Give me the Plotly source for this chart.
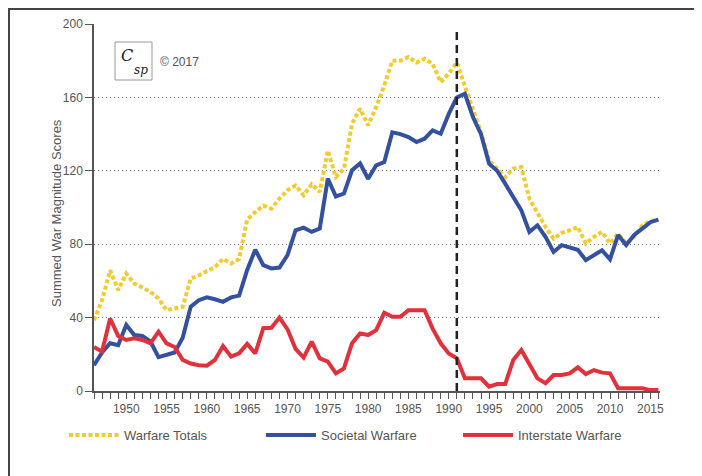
import plotly.graph_objects as go

years = list(range(1946, 2017))

warfare_totals = [
    38.6, 49.5, 65.8, 55, 64, 58.6, 56.4, 54, 50.4, 44,
    45, 45.9, 61.3, 63, 65.4, 67.5, 72, 69.5, 72, 93.5,
    97.5, 101, 99.4, 104.9, 109.4, 112, 106.7, 112.7, 108.5, 131,
    116.6, 121, 145.7, 153.9, 144.8, 154.7, 166.5, 180, 180, 182,
    179, 181, 178.3, 168.3, 172.9, 179, 166, 152.9, 141, 125.7,
    121.2, 116.6, 121.2, 122, 104.8, 96.7, 89.4, 83, 86.2, 87.6,
    89.4, 80.4, 84, 86.7, 80.4, 85.8, 80.4, 84, 90.3, 92.6,
    93.4,
]

societal_warfare = [
    14, 21, 26, 25, 36, 30.5, 30, 27, 18.5, 19.5,
    21, 29, 46, 49.5, 51, 50, 48.6, 51, 52, 66,
    77, 68.6, 66.8, 67.3, 74, 87.6, 89, 86.7, 88.5, 115.7,
    106, 107.6, 120.3, 124, 115.7, 123, 124.8, 141, 140, 138.4,
    135.7, 137.5, 142, 140.2, 151, 160, 162, 149.3, 140, 123.9,
    120, 113, 105.7, 98.5, 86.7, 90.3, 84, 75.8, 79.5, 78.5,
    77, 71.3, 74, 76.7, 71.8, 85, 79.5, 85, 88.5, 92,
    93.4,
]

interstate_warfare = [
    24, 21.4, 39.5, 30, 27.8, 28.7, 27.8, 26, 32.3, 26,
    24, 17, 15, 14, 13.8, 16.9, 24.5, 18.7, 20.5, 25.7,
    20.5, 34.2, 34.5, 40, 33.6, 23, 18.2, 26.9, 17.8, 16,
    9.6, 12.3, 26, 31.4, 30.5, 33.2, 42.6, 40.4, 40.4, 44,
    44, 44, 34, 26, 20.5, 17.8, 6.9, 6.9, 6.9, 2.4,
    3.8, 3.8, 16.9, 22.3, 14.1, 6.9, 4.2, 8.7, 8.7, 9.6,
    12.9, 9.2, 11.4, 10, 9.6, 1.5, 1.5, 1.5, 1.5, 0.5,
    0.5,
]

series_names = ["Warfare Totals", "Societal Warfare", "Interstate Warfare"]
y_ticks = [0, 40, 80, 120, 160, 200]
x_tick_labels = list(range(1950, 2016, 5))
cold_war_end = 1991
copyright_text = "© 2017"
y_title = "Summed War Magnitude Scores"

FONT = "Arial, 'Liberation Sans', sans-serif"
GREY = "#555555"

fig = go.Figure()
fig.add_trace(go.Scatter(x=years, y=warfare_totals, mode="lines", name=series_names[0],
                         line=dict(color="#F2CB30", width=4, dash="4px,2.5px")))
fig.add_trace(go.Scatter(x=years, y=societal_warfare, mode="lines", name=series_names[1],
                         line=dict(color="#3451A0", width=4)))
fig.add_trace(go.Scatter(x=years, y=interstate_warfare, mode="lines", name=series_names[2],
                         line=dict(color="#E2313B", width=4)))

# page is offset by the 8px body margin; figure pixel coords below
OFF = 8
W, H = 694, 468
L, T = 94 - OFF, 24 - OFF
pw, ph = 566, 367
R = W - L - pw
B = H - T - ph

def px(x):  # page pixel -> paper x
    return (x - OFF - L) / pw

def py(y):  # page pixel -> paper y
    return (T + ph - (y - OFF)) / ph

shapes = [
    dict(type="line", xref="x", yref="y", x0=cold_war_end, x1=cold_war_end, y0=0, y1=198,
         line=dict(color="#222222", width=2.5, dash="8px,5px")),
    dict(type="rect", xref="paper", yref="paper", x0=px(9), x1=px(760), y0=py(520), y1=py(9),
         line=dict(color="#444444", width=2), layer="below"),
    dict(type="rect", xref="paper", yref="paper", x0=px(115), x1=px(152), y0=py(80), y1=py(42),
         line=dict(color="#999999", width=1), fillcolor="rgba(0,0,0,0)"),
]

annotations = [
    dict(xref="paper", yref="paper", x=px(127), y=py(55), text="<i>C</i>", showarrow=False,
         font=dict(family="'DejaVu Serif', serif", size=16, color="#222"), xanchor="center", yanchor="middle"),
    dict(xref="paper", yref="paper", x=px(141), y=py(70), text="<i>sp</i>", showarrow=False,
         font=dict(family="'DejaVu Serif', serif", size=12, color="#222"), xanchor="center", yanchor="middle"),
    dict(xref="paper", yref="paper", x=px(158), y=py(62), text=copyright_text, showarrow=False,
         font=dict(family=FONT, size=12, color=GREY), xanchor="left", yanchor="middle"),
    dict(xref="paper", yref="paper", x=px(57), y=py(213), text=y_title, textangle=-90, showarrow=False,
         font=dict(family=FONT, size=13, color=GREY), xanchor="center", yanchor="middle"),
]

fig.update_layout(
    width=W, height=H,
    margin=dict(l=L, r=R, t=T, b=B, autoexpand=False),
    paper_bgcolor="white", plot_bgcolor="white",
    font=dict(family=FONT, color=GREY, size=11),
    shapes=shapes, annotations=annotations,
    showlegend=True,
    legend=dict(orientation="h", x=px(64), y=py(435), xanchor="left", yanchor="middle",
                entrywidth=132, entrywidthmode="pixels", itemwidth=50,
                font=dict(family=FONT, size=13, color=GREY), bgcolor="rgba(0,0,0,0)"),
)

fig.update_xaxes(
    range=[1946, 2016.2], showgrid=False, zeroline=False,
    showline=True, linecolor=GREY, linewidth=1.5,
    tickmode="array", tickvals=x_tick_labels, ticktext=[str(v) for v in x_tick_labels],
    ticks="outside", ticklen=6, tickcolor=GREY, tickwidth=1,
    minor=dict(dtick=1, tick0=1946, ticks="outside", ticklen=6, tickcolor=GREY, tickwidth=1, showgrid=False),
    tickfont=dict(size=12, color=GREY),
)
fig.update_yaxes(
    range=[0, 200], tickvals=y_ticks, showgrid=True, gridcolor="#777777", griddash="1px,3px", gridwidth=1,
    zeroline=False, showline=True, linecolor=GREY, linewidth=1.5,
    ticks="outside", ticklen=7, tickcolor=GREY,
    tickfont=dict(size=12, color=GREY),
)

fig.write_html("out.html")
